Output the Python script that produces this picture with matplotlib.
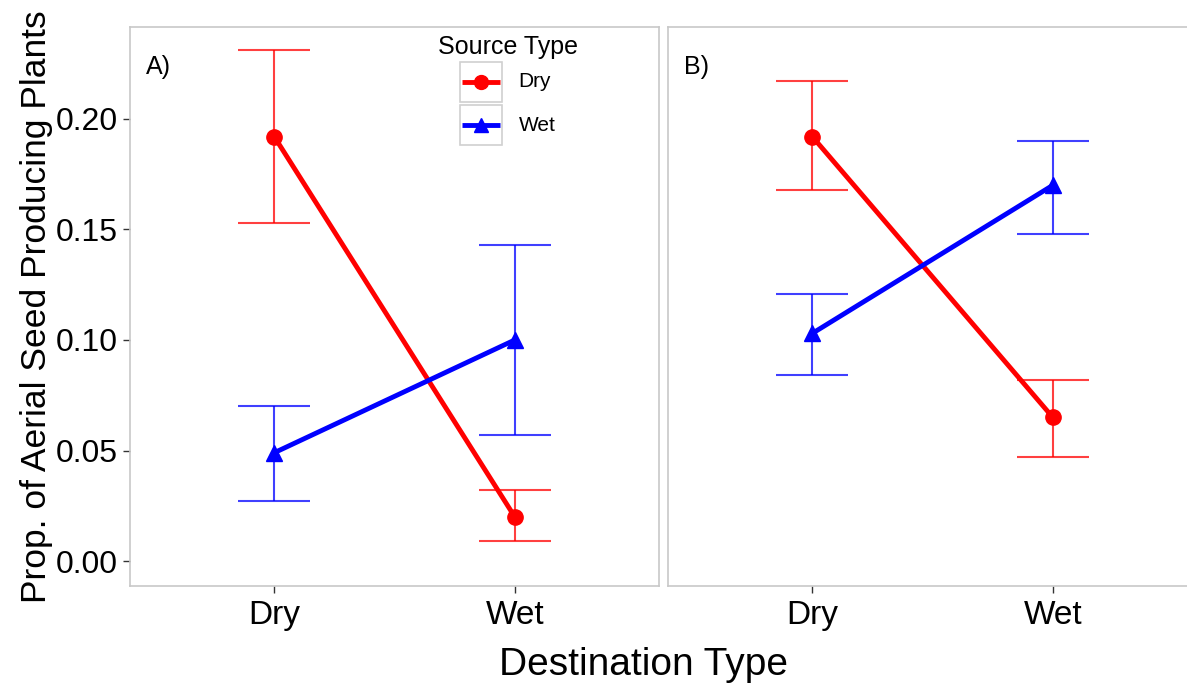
import matplotlib.pyplot as plt
from matplotlib.lines import Line2D
from matplotlib.patches import Rectangle

plt.rcParams['font.family'] = ['Liberation Sans', 'DejaVu Sans']

destinations = ['Dry', 'Wet']
sources = ['Dry', 'Wet']
colors = {'Dry': '#ff0000', 'Wet': '#0000ff'}
markers = {'Dry': 'o', 'Wet': '^'}

# panel A
a_mean = {'Dry': [0.192, 0.020], 'Wet': [0.049, 0.100]}
a_low = {'Dry': [0.153, 0.009], 'Wet': [0.027, 0.057]}
a_high = {'Dry': [0.231, 0.032], 'Wet': [0.070, 0.143]}

# panel B
b_mean = {'Dry': [0.192, 0.065], 'Wet': [0.103, 0.170]}
b_low = {'Dry': [0.168, 0.047], 'Wet': [0.084, 0.148]}
b_high = {'Dry': [0.217, 0.082], 'Wet': [0.121, 0.190]}

yticks = [0.00, 0.05, 0.10, 0.15, 0.20]

fig = plt.figure(figsize=(11.87, 6.87), dpi=100)
axA = fig.add_axes([0.1095, 0.147, 0.4457, 0.8137])
axB = fig.add_axes([0.5628, 0.147, 0.4457, 0.8137])

x = [1, 2]
for ax, mean, low, high, lab in [(axA, a_mean, a_low, a_high, 'A)'),
                                 (axB, b_mean, b_low, b_high, 'B)')]:
    for s in sources:
        c = colors[s]
        ax.vlines(x, low[s], high[s], color=c, lw=1.5, alpha=0.75, zorder=2)
        ax.hlines(low[s], [xi - 0.15 for xi in x], [xi + 0.15 for xi in x],
                  color=c, lw=1.5, alpha=0.75, zorder=2)
        ax.hlines(high[s], [xi - 0.15 for xi in x], [xi + 0.15 for xi in x],
                  color=c, lw=1.5, alpha=0.75, zorder=2)
        ax.plot(x, mean[s], color=c, lw=3.5, marker=markers[s],
                markersize=11, zorder=3)
    ax.set_xlim(0.4, 2.6)
    ax.set_ylim(-0.0113, 0.2416)
    ax.set_xticks(x)
    ax.set_xticklabels(destinations)
    ax.set_yticks(yticks)
    ax.set_yticklabels(['%.2f' % v for v in yticks])
    ax.tick_params(labelsize=23, length=5, width=1, color='#333333',
                   labelcolor='black', pad=4)
    ax.tick_params(axis='x', labelsize=24, pad=5)
    for sp in ax.spines.values():
        sp.set_color('#c8c8c8')
        sp.set_linewidth(1.2)
    ax.text(0.03, 0.95, lab, transform=ax.transAxes, fontsize=18,
            va='top', ha='left')

axB.tick_params(axis='y', left=False, labelleft=False)
axA.set_ylabel('Prop. of Aerial Seed Producing Plants', fontsize=25.5, labelpad=2)
fig.text(0.542, 0.032, 'Destination Type', fontsize=28, ha='center', va='center')

# legend drawn in the ggplot style, with grey boxes round each key
fig.text(0.428, 0.932, 'Source Type', fontsize=18, ha='center', va='center')
for i, s in enumerate(sources):
    yb = 0.852 - i * 0.063
    fig.patches.append(Rectangle((0.3875, yb), 0.0355, 0.058, transform=fig.transFigure,
                                 fill=False, edgecolor='#d0d0d0', lw=1.2))
    fig.lines.append(Line2D([0.3895, 0.4053, 0.4210], [yb + 0.029] * 3,
                            transform=fig.transFigure, color=colors[s], lw=3.5,
                            marker=markers[s], markersize=10, markevery=[1],
                            solid_capstyle='butt'))
    fig.text(0.437, yb + 0.029, s, fontsize=15, ha='left', va='center')

fig.savefig('out.png', dpi=100)
